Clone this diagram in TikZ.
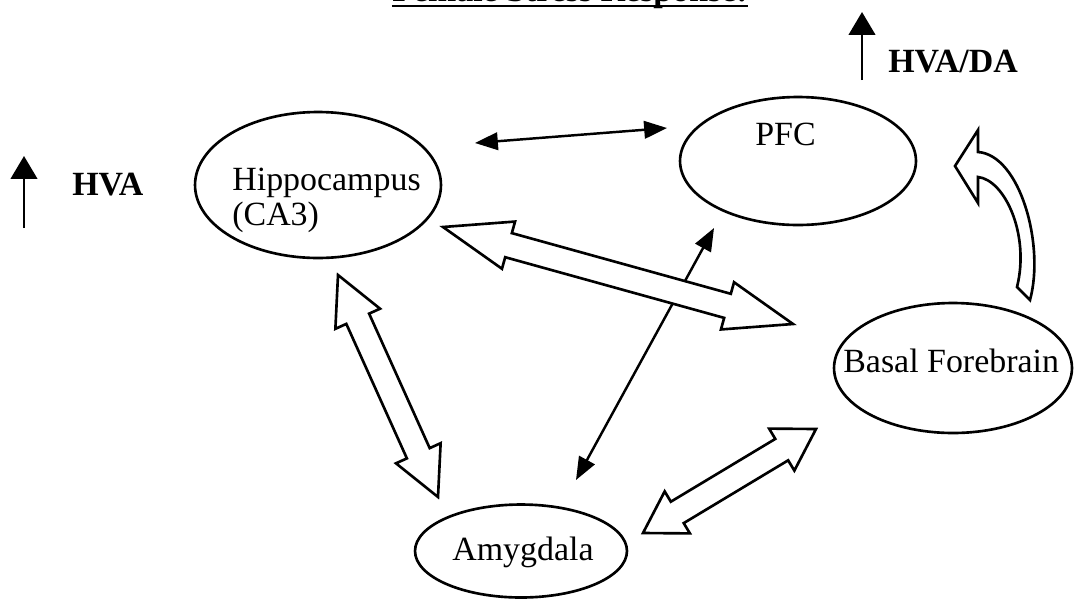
\documentclass[tikz,border=0pt]{standalone}
\usepackage{fontspec}
\setmainfont{Liberation Serif}
\usetikzlibrary{shapes.geometric,arrows.meta,calc}

\tikzset{
  area/.style={ellipse,draw,line width=1.5pt,inner sep=0pt},
  txt/.style={anchor=base west,inner sep=0pt},
  fatarrow/.style={draw,fill=white,line width=1.5pt,line join=miter},
  thinarrow/.style={line width=1.4pt,{Triangle[length=13pt,width=10pt]}-{Triangle[length=13pt,width=10pt]}},
  uparrow/.style={line width=1.6pt,-{Triangle[length=13pt,width=15pt]}}
}

\newcommand{\fatarrow}[3][1.36cm]{%
  \draw[fatarrow] (#2)
    -- ($(#2)!#1!(#3)!0.49cm!90:(#3)$)
    -- ($(#2)!#1!(#3)!0.25cm!90:(#3)$)
    -- ($(#3)!#1!(#2)!0.25cm!-90:(#2)$)
    -- ($(#3)!#1!(#2)!0.49cm!-90:(#2)$)
    -- (#3)
    -- ($(#3)!#1!(#2)!0.49cm!90:(#2)$)
    -- ($(#3)!#1!(#2)!0.25cm!90:(#2)$)
    -- ($(#2)!#1!(#3)!0.25cm!-90:(#3)$)
    -- ($(#2)!#1!(#3)!0.49cm!-90:(#3)$)
    -- cycle;}

\begin{document}
\begin{tikzpicture}[x=0.02cm,y=-0.02cm,font=\fontsize{19.3}{19.85}\selectfont]
  \useasboundingbox (0,0) rectangle (1074,599);

  \node[anchor=base,inner sep=0pt,font=\fontsize{19.3}{19.85}\selectfont\bfseries] (title) at (570,1) {Female Stress Response:};
  \draw[line width=1.7pt] ([yshift=-0.1cm]title.base west) -- ([yshift=-0.1cm]title.base east);

  \node[area,minimum width=4.92cm,minimum height=2.92cm] (hippo) at (318,185) {};
  \node[area,minimum width=4.72cm,minimum height=2.56cm] (pfc) at (798,161) {};
  \node[area,minimum width=4.76cm,minimum height=2.60cm] (bf) at (953,368) {};
  \node[area,minimum width=4.24cm,minimum height=1.86cm] (amyg) at (521,551) {};

  \node[txt,align=left] (hippoText) at (232,225) {Hippocampus\\(CA3)};
  \node[txt] (pfcText) at (755,145) {PFC};
  \node[txt] (bfText) at (843,372) {Basal Forebrain};
  \node[txt] (amygText) at (452,560) {Amygdala};

  \begin{scope}[font=\fontsize{19.3}{19.85}\selectfont\bfseries]
    \node[txt] (hva) at (72,195) {HVA};
    \node[txt] (hvada) at (888,72) {HVA/DA};
  \end{scope}

  \coordinate (hvaFoot) at (24,228);
  \coordinate (hvaTip) at (24,156);
  \coordinate (hvadaFoot) at (862,80);
  \coordinate (hvadaTip) at (862,12);
  \draw[uparrow] (hvaFoot) -- (hvaTip);
  \draw[uparrow] (hvadaFoot) -- (hvadaTip);

  \coordinate (hpA) at (475,143);
  \coordinate (hpB) at (667,128);
  \coordinate (paA) at (714,228);
  \coordinate (paB) at (576,480);
  \draw[thinarrow] (hpA) -- (hpB);
  \draw[thinarrow] (paA) -- (paB);

  \coordinate (hbA) at (443,227);
  \coordinate (hbB) at (793,324);
  \coordinate (haA) at (338,275);
  \coordinate (haB) at (438,497);
  \coordinate (abA) at (643,533);
  \coordinate (abB) at (816,429);
  \fatarrow[1.36cm]{hbA}{hbB}
  \fatarrow[0.96cm]{haA}{haB}
  \fatarrow[0.8cm]{abA}{abB}

  \draw[fatarrow] (1030,300) .. controls (1045,245) and (1020,155) .. (978,152)
    -- (978,130) -- (955,166) -- (978,203) -- (978,177)
    .. controls (1005,180) and (1030,235) .. (1017,287) -- cycle;
\end{tikzpicture}
\end{document}
